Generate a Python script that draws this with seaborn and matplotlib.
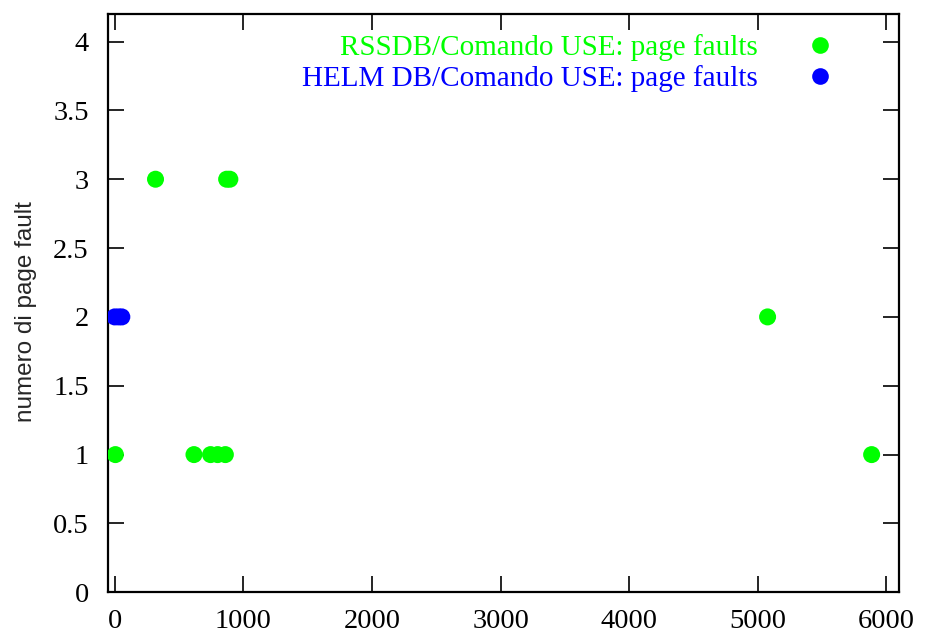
import matplotlib
matplotlib.use("Agg")
import matplotlib.pyplot as plt
import seaborn as sns
import pandas as pd
from matplotlib.lines import Line2D

# data
rss_label = "RSSDB/Comando USE: page faults"
helm_label = "HELM DB/Comando USE: page faults"
rss_x = [5, 317, 870, 895, 616, 745, 800, 860, 5076, 5885]
rss_y = [1, 3, 3, 3, 1, 1, 1, 1, 2, 1]
helm_x = [0, 30, 55]
helm_y = [2, 2, 2]
x_ticks = [0, 1000, 2000, 3000, 4000, 5000, 6000]
y_ticks = [0, 0.5, 1, 1.5, 2, 2.5, 3, 3.5, 4]
y_tick_labels = ["0", "0.5", "1", "1.5", "2", "2.5", "3", "3.5", "4"]
colors = {rss_label: "#00ff00", helm_label: "#0000ff"}

df = pd.DataFrame({
    "x": rss_x + helm_x,
    "y": rss_y + helm_y,
    "serie": [rss_label] * len(rss_x) + [helm_label] * len(helm_x),
})

sns.set_style("white")
plt.rcParams["font.family"] = ["Liberation Serif", "DejaVu Serif"]

fig = plt.figure(figsize=(9.25, 6.39), dpi=100)
ax = fig.add_axes([0.1171, 0.0731, 0.9722 - 0.1171, 0.9781 - 0.0731])

sns.scatterplot(data=df, x="x", y="y", hue="serie", palette=colors,
                s=150, linewidth=0, legend=False, ax=ax, zorder=3)

ax.set_xlim(-50, 6100)
ax.set_ylim(0, 4.2)
ax.set_xticks(x_ticks)
ax.set_xticklabels([str(t) for t in x_ticks])
ax.set_yticks(y_ticks)
ax.set_yticklabels(y_tick_labels)
ax.tick_params(axis="both", direction="in", length=11.5, width=1.2,
               labelsize=20.5, colors="black", top=True, right=True,
               bottom=True, left=True)
ax.tick_params(axis="x", pad=12)
ax.tick_params(axis="y", pad=14)
for sp in ax.spines.values():
    sp.set_visible(True)
    sp.set_color("black")
    sp.set_linewidth(1.6)

ax.set_xlabel("")
ax.set_ylabel("numero di page fault", family=["Liberation Sans", "DejaVu Sans"],
              fontsize=17.5)
ax.yaxis.set_label_coords(-0.090, 0.4847)

handles = [Line2D([0], [0], linestyle="none", marker="o", markersize=12,
                  markerfacecolor=colors[k], markeredgewidth=0)
           for k in (rss_label, helm_label)]
leg = ax.legend(handles, [rss_label, helm_label], loc="upper right",
                bbox_to_anchor=(849.2 / 925, 1 - 34.5 / 639),
                bbox_transform=fig.transFigure, frameon=False,
                markerfirst=False, fontsize=21, handletextpad=1.13,
                borderpad=0, borderaxespad=0, labelspacing=0.13)
for t, k in zip(leg.get_texts(), (rss_label, helm_label)):
    t.set_color(colors[k])

fig.savefig("out.png", dpi=100)
